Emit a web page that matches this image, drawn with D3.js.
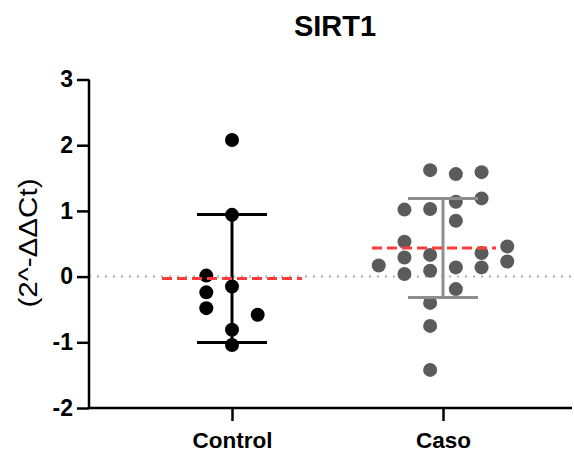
<!DOCTYPE html>
<html><head><meta charset="utf-8">
<script src="https://cdn.jsdelivr.net/npm/d3@7"></script>
<style>body{margin:0;background:#fff}svg{display:block}text{font-family:"Liberation Sans",Arial,sans-serif}</style>
</head><body><svg id="c" width="574" height="453"></svg>
<script>
const title = "SIRT1";
const yLabel = "(2^-ΔΔCt)";
const categories = ["Control", "Caso"];
const yTicks = [-2, -1, 0, 1, 2, 3];
const controlValues = [2.08, 0.94, 0.015, -0.15, -0.24, -0.48, -0.58, -0.81, -1.04];
const controlSlot   = [0, 0, -1, 0, -1, -1, 1, 0, 0];
const casoValues = [1.62, 1.03, 0.33, 0.09, -0.40, -0.75, -1.42,
                    1.56, 1.14, 0.85, 0.14, -0.19,
                    1.59, 1.19, 0.36, 0.14,
                    1.02, 0.53, 0.29, 0.04,
                    0.17,
                    0.46, 0.23];
const casoSlot = [-0.5,-0.5,-0.5,-0.5,-0.5,-0.5,-0.5,
                  0.5,0.5,0.5,0.5,0.5,
                  1.5,1.5,1.5,1.5,
                  -1.5,-1.5,-1.5,-1.5,
                  -2.5,
                  2.5,2.5];

const groups = [
  {name: "Control", values: controlValues, slots: controlSlot, dot: "#000000", bar: "#000000", meanL: 70, meanR: 70},
  {name: "Caso", values: casoValues, slots: casoSlot, dot: "#5b5b5b", bar: "#8e8e8e", meanL: 71, meanR: 53}
];

const svg = d3.select("#c");
const axisX = 89, axisBottom = 408, axisTop = 79.5, axisRight = 572;
const y = d3.scaleLinear().domain([-2, 3]).range([axisBottom, axisTop]);
const x = d3.scalePoint().domain(categories).range([232, 443]);
const slotW = 25.7;

// zero dotted line
svg.append("line").attr("x1", axisX).attr("x2", axisRight).attr("y1", y(0)).attr("y2", y(0))
  .attr("stroke", "#b0b0b0").attr("stroke-width", 2).attr("stroke-dasharray", "2,6");

groups.forEach(g => {
  const cx = x(g.name);
  const m = d3.mean(g.values), sd = d3.deviation(g.values);
  svg.append("g").selectAll("circle").data(g.values).join("circle")
    .attr("cx", (d, i) => cx + g.slots[i] * slotW)
    .attr("cy", d => y(d)).attr("r", 7).attr("fill", g.dot);
  const eb = svg.append("g").attr("stroke", g.bar).attr("stroke-width", 3).attr("fill", "none");
  eb.append("line").attr("x1", cx).attr("x2", cx).attr("y1", y(m + sd)).attr("y2", y(m - sd));
  [m + sd, m - sd].forEach(v => eb.append("line").attr("x1", cx - 35).attr("x2", cx + 35).attr("y1", y(v)).attr("y2", y(v)));
  svg.append("line").attr("x1", cx - g.meanL).attr("x2", cx + g.meanR).attr("y1", y(m)).attr("y2", y(m))
    .attr("stroke", "#ff3b3b").attr("stroke-width", 3).attr("stroke-dasharray", "10,5");
});

// y axis
const ya = svg.append("g").attr("transform", `translate(${axisX},0)`)
  .call(d3.axisLeft(y).tickValues(yTicks).tickFormat(d => String(d)).tickSize(12).tickPadding(4));
ya.selectAll("path,line").attr("stroke", "#000").attr("stroke-width", 2.5);
ya.select(".domain").attr("d", `M0,${axisTop}V${axisBottom}`);
ya.selectAll("text").attr("font-size", 23).attr("font-weight", "bold").attr("fill", "#000")
  .attr("font-family", "'Liberation Sans',Arial,sans-serif");

// x axis
const xa = svg.append("g").attr("transform", `translate(0,${axisBottom})`)
  .call(d3.axisBottom(x).tickSize(13).tickPadding(11));
xa.select(".domain").attr("d", `M${axisX},0H${axisRight}`);
xa.selectAll("path,line").attr("stroke", "#000").attr("stroke-width", 2.5);
xa.selectAll("text").attr("font-size", 22.5).attr("font-weight", "bold").attr("fill", "#000")
  .attr("font-family", "'Liberation Sans',Arial,sans-serif");

// title
svg.append("text").attr("x", 335).attr("y", 36).attr("text-anchor", "middle")
  .attr("font-size", 29).attr("font-weight", "bold").text(title);

// y label
svg.append("text").attr("transform", "translate(37,243) rotate(-90)").attr("text-anchor", "middle")
  .attr("font-size", 25).attr("textLength", 129).attr("lengthAdjust", "spacingAndGlyphs")
  .text(yLabel);
</script></body></html>
